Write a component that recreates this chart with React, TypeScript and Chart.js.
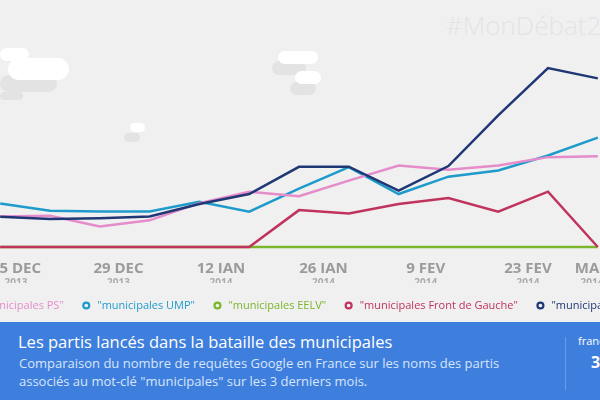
import React, { useEffect, useRef } from "react";
import { Chart, registerables } from "chart.js";

Chart.register(...registerables);

// ---- data ----
const weekIndex = [0, 1, 2, 3, 4, 5, 6, 7, 8, 9, 10, 11, 12];
const seriesLabels = [
  '"municipales PS"',
  '"municipales UMP"',
  '"municipales EELV"',
  '"municipales Front de Gauche"',
  '"municipales FN"',
];
const psValues = [17, 17.4, 11.4, 14.9, 24.5, 30.9, 28.4, 37.1, 45.5, 43.1, 45.5, 50.2, 50.7];
const umpValues = [24.3, 20.2, 19.9, 19.8, 25.3, 19.7, 32.6, 44.6, 29.6, 39.3, 42.7, 51.1, 61.1];
const eelvValues = [0, 0, 0, 0, 0, 0, 0, 0, 0, 0, 0, 0, 0];
const fdgValues = [0, 0, 0, 0, 0, 0, 20.6, 18.7, 24.0, 27.4, 19.7, 30.9, 0];
const fnValues = [16.9, 15.6, 16.1, 17.1, 24.0, 29.6, 44.8, 44.9, 31.5, 45.2, 73.5, 100, 94.2];
const tickAt = [0.317, 2.375, 4.434, 6.492, 8.544, 10.598, 11.884];
const tickDates = ["15 DEC", "29 DEC", "12 JAN", "26 JAN", "9 FEV", "23 FEV", "MAR"];
const tickYears = ["2013", "2013", "2014", "2014", "2014", "2014", "2014"];

const seriesValues = [psValues, umpValues, eelvValues, fdgValues, fnValues];
const seriesColors = ["#e58ccb", "#1f9bcb", "#7ab52c", "#c0335c", "#1f3775"];
const drawOrder = [1, 2, 5, 4, 0];

const X_MIN = -2.012;
const X_MAX = 14.052;
const FONT = "'Open Sans', 'DejaVu Sans', sans-serif";

const clouds: Array<[number, number, number, number, string]> = [
  [0, 48, 29, 13, "#ffffff"],
  [0, 75, 57, 17, "#e3e3e3"],
  [0, 92, 23, 8, "#e3e3e3"],
  [8, 58, 61, 22, "#ffffff"],
  [272, 61, 34, 14, "#e3e3e3"],
  [278, 51, 40, 13, "#ffffff"],
  [290, 82, 26, 13, "#e3e3e3"],
  [295, 71, 26, 13, "#ffffff"],
  [124, 133, 16, 9, "#e3e3e3"],
  [130, 123, 15, 9, "#ffffff"],
];

export default function App() {
  const ref = useRef<HTMLCanvasElement | null>(null);

  useEffect(() => {
    if (!ref.current) return;
    const setTicks = (s: any) => {
      s.ticks = tickAt.map((v) => ({ value: v }));
    };
    const chart = new Chart(ref.current, {
      type: "line",
      data: {
        datasets: seriesValues.map((vals, i) => ({
          label: seriesLabels[i],
          data: vals.map((v, j) => ({ x: weekIndex[j], y: v })),
          borderColor: seriesColors[i],
          backgroundColor: "rgba(0,0,0,0)",
          borderWidth: 2.5,
          pointRadius: 0,
          tension: 0,
          fill: false,
          clip: false,
          order: drawOrder[i],
        })),
      },
      options: {
        animation: false,
        responsive: false,
        maintainAspectRatio: false,
        events: [],
        layout: { padding: { top: 68, bottom: 1, left: 0, right: 0 } },
        plugins: {
          tooltip: { enabled: false },
          title: { display: false },
          legend: {
            position: "bottom",
            align: "center",
            labels: {
              usePointStyle: true,
              pointStyle: "circle",
              boxWidth: 11,
              boxHeight: 4.2,
              padding: 17,
              font: { family: FONT, size: 11 },
              generateLabels: (c: any) =>
                c.data.datasets.map((d: any, i: number) => ({
                  text: d.label,
                  fillStyle: "rgba(0,0,0,0)",
                  strokeStyle: d.borderColor,
                  fontColor: d.borderColor,
                  lineWidth: 2.2,
                  pointStyle: "circle",
                  hidden: false,
                  datasetIndex: i,
                })),
            },
          },
        },
        scales: {
          x: {
            type: "linear",
            position: "bottom",
            weight: 0,
            min: X_MIN,
            max: X_MAX,
            grid: { display: false, drawTicks: false },
            border: { display: false },
            afterBuildTicks: setTicks,
            afterFit: (s: any) => {
              s.height = 26;
            },
            ticks: {
              autoSkip: false,
              maxRotation: 0,
              minRotation: 0,
              padding: 13,
              color: "#9b9b9b",
              font: { family: FONT, size: 15, weight: "bold" },
              callback: (_v: any, i: number) => tickDates[i],
            },
          },
          x2: {
            type: "linear",
            axis: "x",
            position: "bottom",
            weight: 1,
            min: X_MIN,
            max: X_MAX,
            grid: { display: false, drawTicks: false },
            border: { display: false },
            afterBuildTicks: setTicks,
            afterFit: (s: any) => {
              s.height = 10;
            },
            ticks: {
              autoSkip: false,
              maxRotation: 0,
              minRotation: 0,
              padding: 4,
              color: "#ababab",
              font: { family: FONT, size: 10, weight: "bold" },
              callback: (_v: any, i: number) => tickYears[i],
            },
          },
          y: { display: false, min: 0, max: 100 },
        },
      } as any,
    });
    return () => chart.destroy();
  }, []);

  return (
    <div
      style={{
        position: "fixed",
        left: 0,
        top: 0,
        width: 600,
        height: 400,
        overflow: "hidden",
        background: "#f0f0f0",
        fontFamily: FONT,
      }}
    >
      {clouds.map(([x, y, w, h, c], i) => (
        <div
          key={i}
          style={{
            position: "absolute",
            left: x,
            top: y,
            width: w,
            height: h,
            background: c,
            borderRadius: h / 2,
          }}
        />
      ))}
      <div
        style={{
          position: "absolute",
          left: 446,
          top: 8,
          fontSize: 26,
          fontWeight: 300,
          color: "#e4e4e4",
          whiteSpace: "nowrap",
          lineHeight: "34px",
        }}
      >
        #MonDébat2014
      </div>
      <canvas
        ref={ref}
        width={800}
        height={322}
        style={{ position: "absolute", left: -100, top: 0, width: 800, height: 322 }}
      />
      <div
        style={{
          position: "absolute",
          left: 0,
          top: 322,
          width: 600,
          height: 78,
          background: "#3e7edd",
        }}
      >
        <div
          style={{
            position: "absolute",
            left: 18,
            top: 10,
            fontSize: 16.5,
            lineHeight: "20px",
            color: "#ffffff",
            whiteSpace: "nowrap",
          }}
        >
          Les partis lancés dans la bataille des municipales
        </div>
        <div
          style={{
            position: "absolute",
            left: 19,
            top: 33,
            fontSize: 13,
            lineHeight: "17.5px",
            color: "#d8e5fa",
            whiteSpace: "nowrap",
          }}
        >
          Comparaison du nombre de requêtes Google en France sur les noms des partis
          <br />
          associés au mot-clé "municipales" sur les 3 derniers mois.
        </div>
        <div
          style={{
            position: "absolute",
            left: 565,
            top: 15,
            width: 1,
            height: 53,
            background: "#6b9be6",
          }}
        />
        <div
          style={{
            position: "absolute",
            left: 578,
            top: 12,
            fontSize: 11,
            lineHeight: "14px",
            color: "#ffffff",
            whiteSpace: "nowrap",
          }}
        >
          france
        </div>
        <div
          style={{
            position: "absolute",
            left: 591,
            top: 31,
            fontSize: 16,
            fontWeight: "bold",
            lineHeight: "18px",
            color: "#ffffff",
          }}
        >
          3
        </div>
      </div>
    </div>
  );
}
